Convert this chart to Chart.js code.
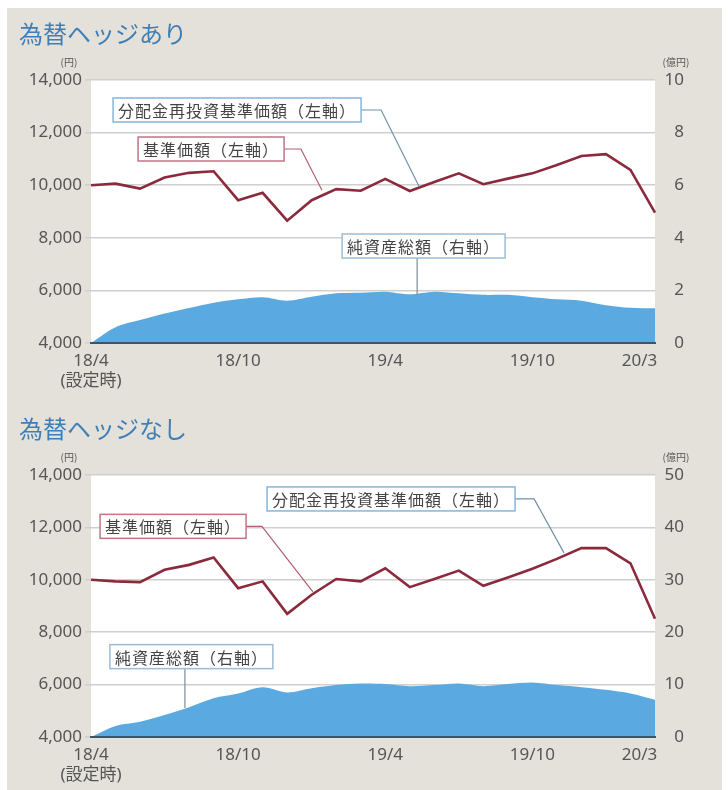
<!DOCTYPE html>
<html>
<head>
<meta charset="utf-8">
<script src="https://cdn.jsdelivr.net/npm/chart.js@4/dist/chart.umd.min.js"></script>
<style>
  html, body { margin: 0; padding: 0; background: #fff; }
  #panel { position: absolute; left: 7px; top: 8px; width: 715px; height: 782px; background: #e4e1da; }
  canvas { position: absolute; left: 0; }
  #c1 { top: 0; }
  #c2 { top: 395px; }
</style>
</head>
<body>
<div id="panel"></div>
<canvas id="c1" width="728" height="395"></canvas>
<canvas id="c2" width="728" height="395"></canvas>
<script>
// months 18/4 .. 20/3
const months = ['18/4','18/5','18/6','18/7','18/8','18/9','18/10','18/11','18/12','19/1','19/2','19/3',
                '19/4','19/5','19/6','19/7','19/8','19/9','19/10','19/11','19/12','20/1','20/2','20/3'];
const tickIdx = [0, 6, 12, 18, 23];
const tickText = [['18/4', '(設定時)'], '18/10', '19/4', '19/10', '20/3       '];

// 為替ヘッジあり
const hedgedNav = [10000,10060,9870,10290,10470,10530,9430,9710,8650,9430,9850,9790,
                   10240,9780,10120,10450,10040,10250,10450,10770,11110,11180,10580,8960];
const hedgedAssets = [0,0.6,0.87,1.12,1.33,1.53,1.66,1.74,1.61,1.76,1.89,1.91,
                      1.95,1.85,1.95,1.89,1.83,1.83,1.74,1.66,1.61,1.44,1.34,1.32];

// 為替ヘッジなし
const openNav = [10000,9940,9910,10380,10570,10850,9680,9940,8700,9430,10030,9940,
                 10440,9720,10030,10350,9770,10090,10420,10800,11210,11210,10630,8510];
const openAssets = [0,2.1,2.9,4.2,5.7,7.4,8.3,9.5,8.5,9.3,9.9,10.2,
                    10.1,9.7,9.9,10.2,9.7,10.1,10.4,9.9,9.5,9.0,8.3,7.1];

Chart.defaults.font.family = "'Noto Sans', 'Noto Sans CJK JP', sans-serif";
Chart.defaults.color = '#555';

const lineColor = '#8a2a3c';
const areaColor = '#5aa9e0';
const gridColor = '#cfcfcf';

const framePlugin = {
  id: 'frame',
  beforeDraw(chart) {
    const a = chart.chartArea, ctx = chart.ctx;
    ctx.save();
    ctx.fillStyle = '#fff';
    ctx.fillRect(a.left, a.top, a.right - a.left, a.bottom - a.top);
    ctx.restore();
  },
  afterDraw(chart, args, o) {
    const a = chart.chartArea, ctx = chart.ctx;
    ctx.save();
    ctx.fillStyle = '#3d7fb8';
    ctx.font = "24px 'Noto Sans CJK JP'";
    ctx.textBaseline = 'middle';
    ctx.textAlign = 'left';
    ctx.fillText(o.title, 19, a.top - 46);
    ctx.fillStyle = '#555';
    ctx.font = "10px 'Noto Sans CJK JP'";
    ctx.textAlign = 'center';
    ctx.fillText('(円)', a.left - 22, a.top - 18);
    ctx.fillText('(億円)', a.right + 21, a.top - 18);
    ctx.restore();
  }
};

const calloutPlugin = {
  id: 'callouts',
  afterDatasetsDraw(chart, args, o) {
    const ctx = chart.ctx, sx = chart.scales.x, sy = chart.scales.y;
    ctx.save();
    ctx.font = "16px 'Noto Sans CJK JP'";
    try { ctx.letterSpacing = '1px'; } catch (e) {}
    o.items.forEach(it => {
      const x = sx.getPixelForValue(it.left);
      const cy = sy.getPixelForValue(it.y);
      const w = ctx.measureText(it.text).width + 10, h = 24;
      // leader line
      ctx.strokeStyle = it.lineColor;
      ctx.lineWidth = 1.2;
      ctx.beginPath();
      if (it.drop !== undefined) {
        const lx = sx.getPixelForValue(it.drop);
        ctx.moveTo(lx, cy + h / 2);
        ctx.lineTo(lx, sy.getPixelForValue(it.endY));
      } else {
        ctx.moveTo(x + w, cy);
        ctx.lineTo(sx.getPixelForValue(it.elbow), cy);
        ctx.lineTo(sx.getPixelForValue(it.endX), sy.getPixelForValue(it.endY));
      }
      ctx.stroke();
      // box
      ctx.fillStyle = '#fff';
      ctx.fillRect(x, cy - h / 2, w, h);
      ctx.strokeStyle = it.border;
      ctx.lineWidth = 1.5;
      ctx.strokeRect(x, cy - h / 2, w, h);
      ctx.fillStyle = '#444';
      ctx.textAlign = 'left';
      ctx.textBaseline = 'middle';
      ctx.fillText(it.text, x + 5, cy + 1);
    });
    ctx.restore();
  }
};

function makeChart(id, title, nav, assets, rightMax, rightStep, xHeight, callouts) {
  return new Chart(document.getElementById(id), {
    type: 'line',
    data: {
      labels: months,
      datasets: [
        { label: '基準価額', data: nav, yAxisID: 'y', borderColor: lineColor, borderWidth: 2.6,
          pointRadius: 0, tension: 0, fill: false },
        { label: '純資産総額', data: assets, yAxisID: 'y1', borderWidth: 0, backgroundColor: areaColor,
          pointRadius: 0, tension: 0.3, fill: 'start' }
      ]
    },
    options: {
      responsive: false,
      animation: false,
      devicePixelRatio: 1,
      layout: { padding: { top: 80, right: 44, left: 0, bottom: 0 } },
      plugins: {
        legend: { display: false },
        tooltip: { enabled: false },
        frame: { title },
        callouts: { items: callouts }
      },
      scales: {
        x: {
          offset: false,
          grid: { display: false },
          border: { display: true, color: '#3e5566', width: 2, z: 1 },
          afterFit(s) { s.height = xHeight; },
          ticks: {
            autoSkip: false, maxRotation: 0, padding: 0,
            font: { size: 17, lineHeight: 1.18 },
            callback(v, i) {
              const k = tickIdx.indexOf(i);
              return k < 0 ? '' : tickText[k];
            }
          }
        },
        y: {
          position: 'left', min: 4000, max: 14000,
          afterFit(s) { s.width = 91; },
          grid: { color: gridColor, lineWidth: 1.5, tickLength: 6, tickColor: gridColor },
          border: { display: false },
          ticks: { stepSize: 2000, padding: 3, font: { size: 17 },
                   callback: v => v.toLocaleString('en-US') }
        },
        y1: {
          position: 'right', min: 0, max: rightMax,
          afterFit(s) { s.width = 29; },
          grid: { display: false },
          border: { display: false },
          ticks: { stepSize: rightStep, crossAlign: 'far', font: { size: 17 } }
        }
      }
    },
    plugins: [framePlugin, calloutPlugin]
  });
}

makeChart('c1', '為替ヘッジあり', hedgedNav, hedgedAssets, 10, 2, 52, [
  { text: '分配金再投資基準価額（左軸）', left: 0.9, y: 12860, elbow: 11.83, endX: 13.38, endY: 9950,
    border: '#86b6d8', lineColor: '#6f93ab' },
  { text: '基準価額（左軸）', left: 1.92, y: 11376, elbow: 8.56, endX: 9.42, endY: 9810,
    border: '#c07585', lineColor: '#b0606f' },
  { text: '純資産総額（右軸）', left: 10.24, y: 7688, drop: 13.3, endY: 5825,
    border: '#9dbdd4', lineColor: '#7d8c96' }
]);

makeChart('c2', '為替ヘッジなし', openNav, openAssets, 50, 10, 53, [
  { text: '分配金再投資基準価額（左軸）', left: 7.18, y: 13086, elbow: 18.07, endX: 19.29, endY: 11029,
    border: '#86b6d8', lineColor: '#6f93ab' },
  { text: '基準価額（左軸）', left: 0.37, y: 12040, elbow: 6.97, endX: 9.05, endY: 9543,
    border: '#c07585', lineColor: '#b0606f' },
  { text: '純資産総額（右軸）', left: 0.77, y: 7067, drop: 3.83, endY: 5105,
    border: '#9dbdd4', lineColor: '#7d8c96' }
]);
</script>
</body>
</html>
